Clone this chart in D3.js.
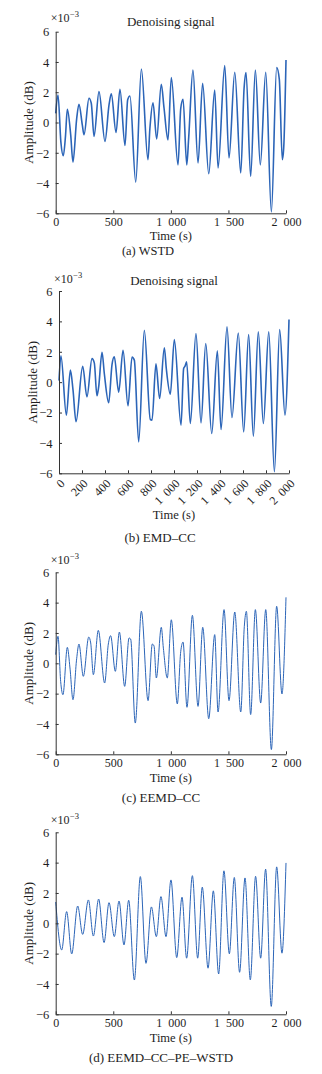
<!DOCTYPE html>
<html><head><meta charset="utf-8">
<script src="https://cdn.jsdelivr.net/npm/d3@7"></script>
<style>
body{margin:0;background:#fff}
svg{display:block}
text{font-family:"Liberation Serif","Times New Roman",serif;fill:#1e1e1e}
</style>
</head><body><svg id="c" width="322" height="1074"></svg>
<script>
// ---- data (amplitude in units of 1e-3) ----
const timeA=[0,20,45,66,85,101,130,150,182,202,231,246,289,309,333,376,428,463,483,524,558,602,625,645,695,744,801,818,845,877,917,941,975,1004,1062,1086,1106,1138,1155,1192,1236,1276,1329,1381,1410,1468,1505,1555,1607,1636,1653,1693,1734,1777,1824,1873,1919,1942,1968,1980,2000];
const ampA =[0.6,1.82,-1.3,-2.2,-0.9,0.88,-0.8,-2.62,0.24,1.21,-0.16,-0.81,1.6,1.27,-0.92,2.04,-1.25,1.16,1.89,-0.66,2.2,-1.52,1.5,1.75,-3.94,3.54,-2.46,-0.4,1.3,-1.08,2.52,0.94,-1.15,2.97,-2.8,0.94,1.54,-2.8,-1.0,3.47,-2.68,2.59,-3.39,2.15,-3.01,3.76,-2.35,3.32,-3.34,2.26,3.3,-3.56,3.47,-2.8,3.32,-5.91,3.63,2.85,-2.46,-1.7,4.13];

const timeB=[0,17,64,99,122,148,206,243,287,307,330,345,374,394,432,461,481,519,557,600,635,655,693,742,794,809,843,875,916,933,968,1003,1061,1084,1096,1110,1142,1191,1235,1276,1328,1377,1409,1461,1504,1559,1606,1649,1690,1733,1777,1824,1873,1919,1965,2000];
const ampB =[0.1,1.73,-2.17,0.79,-0.53,-2.61,1.05,-0.97,1.55,1.27,-0.9,-0.31,1.97,0.57,-1.36,1.16,1.67,-0.66,2.1,-1.56,1.66,1.45,-3.93,3.42,-2.46,-2.5,1.2,-1.08,2.26,0.9,-0.79,2.8,-2.83,0.9,1.05,1.34,-2.72,3.2,-2.68,2.54,-3.38,2.06,-3.12,3.64,-2.33,3.24,-3.27,3.13,-3.55,3.31,-2.72,3.31,-5.9,3.46,-2.17,4.12];

const timeC=[0,20,43,63,101,124,150,182,202,240,287,304,327,370,425,457,477,518,553,599,637,651,691,744,802,839,854,874,917,935,969,1004,1056,1086,1106,1140,1187,1236,1277,1329,1381,1410,1462,1505,1555,1607,1638,1656,1693,1734,1780,1824,1873,1919,1965,2000];
const ampC =[0.57,1.78,-1.19,-2.07,1.05,-0.31,-2.4,0.3,1.27,-0.86,1.73,1.34,-0.75,2.17,-1.3,1.27,1.82,-0.53,2.06,-1.52,1.67,1.6,-3.94,3.43,-2.46,1.27,1.14,-0.97,2.37,1.0,-0.97,2.87,-2.68,0.79,1.4,-2.9,3.16,-2.84,2.37,-3.65,1.89,-3.21,3.54,-2.46,3.38,-3.21,2.44,3.43,-3.38,3.54,-2.62,3.54,-5.69,3.76,-2.02,4.35];

const timeD=[0,52,95,139,191,234,284,327,373,420,463,509,550,593,634,683,735,784,831,874,914,958,1001,1051,1097,1137,1187,1233,1273,1323,1369,1415,1461,1508,1551,1597,1644,1690,1736,1780,1823,1872,1919,1965,2000];
const ampD =[1.4,-1.76,0.77,-2.02,1.14,-0.73,1.54,-0.84,1.6,-1.27,1.36,-0.88,1.47,-1.43,1.52,-3.74,3.08,-2.64,1.08,-0.88,1.76,-0.88,2.86,-2.26,1.72,-2.3,3.14,-2.3,2.38,-2.96,2.14,-3.34,3.46,-2.01,3.02,-3.23,2.99,-3.73,3.1,-2.3,3.57,-5.48,3.72,-1.97,3.98];

const yTicks=[-6,-4,-2,0,2,4,6];
const xTicks=[0,500,1000,1500,2000];
const xTicksB=[0,200,400,600,800,1000,1200,1400,1600,1800,2000];
const titles=["Denoising signal","Denoising signal","",""];
const captions=["(a) WSTD","(b) EMD\u2013CC","(c) EEMD\u2013CC","(d) EEMD\u2013CC\u2013PE\u2013WSTD"];
const xLabel="Time (s)", yLabel="Amplitude (dB)";

// ---- layout ----
const layout=[
 {t:timeA,v:ampA,ticks:xTicks,rot:false,left:55.7,right:286,top:31.7,bottom:213.3,lw:1.6,capX:148,capY:255,timeY:240.2},
 {t:timeB,v:ampB,ticks:xTicksB,rot:true,left:59,right:289,top:291,bottom:473.3,lw:1.6,capX:160,capY:542,timeY:519},
 {t:timeC,v:ampC,ticks:xTicks,rot:false,left:55.7,right:286,top:572.3,bottom:754.3,lw:1.0,capX:161,capY:801.5,timeY:781.5},
 {t:timeD,v:ampD,ticks:xTicks,rot:false,left:55.7,right:286,top:832.3,bottom:1014.3,lw:1.0,capX:161,capY:1061.5,timeY:1041.5}
];
const svg=d3.select("#c");
const fmt=v=>d3.format(",")(v).replace(",","\u2002");
const lineColor="#2c65b8", axisColor="#333";

layout.forEach((p,i)=>{
  const x=d3.scaleLinear().domain([0,2000]).range([p.left,p.right]);
  const y=d3.scaleLinear().domain([-6,6]).range([p.bottom,p.top]);
  const g=svg.append("g");
  const data=p.t.map((t,k)=>[t,p.v[k]]);
  g.append("path").datum(data)
    .attr("fill","none").attr("stroke",lineColor).attr("stroke-width",p.lw)
    .attr("stroke-linejoin","round")
    .attr("d",d3.line().x(d=>x(d[0])).y(d=>y(d[1])).curve(d3.curveMonotoneX));
  const ya=g.append("g").attr("transform",`translate(${p.left},0)`)
    .call(d3.axisLeft(y).tickValues(yTicks).tickSizeInner(-3).tickSizeOuter(0).tickPadding(6.5).tickFormat(d3.format("d")));
  const xa=g.append("g").attr("transform",`translate(0,${p.bottom})`)
    .call(d3.axisBottom(x).tickValues(p.ticks).tickSizeInner(-3).tickSizeOuter(0).tickFormat(fmt));
  [ya,xa].forEach(a=>{
    a.select(".domain").attr("stroke",axisColor);
    a.selectAll(".tick line").attr("stroke",axisColor);
    a.selectAll("text").attr("font-family",'"Liberation Serif",serif').attr("font-size",12.5).attr("fill","#1e1e1e");
  });
  ya.selectAll("text").attr("dy","0.34em");
  if(p.rot){
    xa.selectAll("text").attr("y",0).attr("dy","0.35em").attr("font-size",12)
      .attr("text-anchor","end")
      .attr("transform","translate(3,8) rotate(-45)");
  } else {
    xa.selectAll("text").attr("y",12.8).attr("dy",0).attr("font-size",12);
  }
  const ey=p.top-(i===0?10:8.5);
  const ex=g.append("text").attr("x",p.left-5).attr("y",ey)
    .attr("font-size",12).text("\u00d710");
  const w=ex.node().getComputedTextLength();
  g.append("text").attr("x",p.left-5+w+0.5).attr("y",ey-5)
    .attr("font-size",8.5).text("\u22123");
  if(titles[i]) g.append("text").attr("x",(p.left+p.right)/2).attr("y",p.top-6)
    .attr("text-anchor","middle").attr("font-size",13).text(titles[i]);
  g.append("text").attr("transform",`translate(${p.left-27},${(p.top+p.bottom)/2}) rotate(-90)`)
    .attr("text-anchor","middle").attr("dy","0.35em").attr("font-size",13).text(yLabel);
  g.append("text").attr("x",(p.left+p.right)/2).attr("y",p.timeY)
    .attr("text-anchor","middle").attr("font-size",12.5).text(xLabel);
  g.append("text").attr("x",p.capX).attr("y",p.capY)
    .attr("text-anchor","middle").attr("font-size",i===0?12.5:13).text(captions[i]);
});
</script></body></html>
